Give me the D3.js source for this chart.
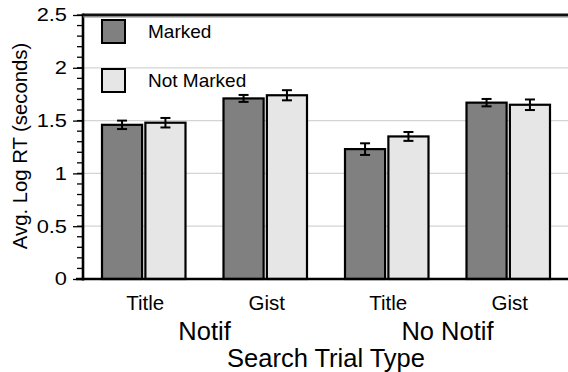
<!DOCTYPE html>
<html>
<head>
<meta charset="utf-8">
<script src="https://cdn.jsdelivr.net/npm/d3@7"></script>
<style>
  html, body { margin: 0; padding: 0; background: #fff; }
  svg { display: block; font-family: "Liberation Sans", Arial, sans-serif; }
</style>
</head>
<body>
<svg id="chart" width="568" height="372"></svg>
<script>
// Search trial conditions (x axis) and their grouping
const categories = ["Notif Title", "Notif Gist", "No Notif Title", "No Notif Gist"];
const tickLabels = ["Title", "Gist", "Title", "Gist"];
const groups = ["Notif", "No Notif"];
const series = ["Marked", "Not Marked"];

// Mean log response time (seconds) and error bar half-widths
const markedValues = [1.46, 1.71, 1.23, 1.67];
const notMarkedValues = [1.48, 1.74, 1.35, 1.65];
const markedErrors = [0.04, 0.033, 0.055, 0.035];
const notMarkedErrors = [0.045, 0.048, 0.042, 0.05];

const yTicks = [0, 0.5, 1, 1.5, 2, 2.5];

const fills = { "Marked": "#808080", "Not Marked": "#e6e6e6" };

const rows = categories.map((c, i) => ({
  category: c,
  bars: [
    { series: "Marked", value: markedValues[i], err: markedErrors[i] },
    { series: "Not Marked", value: notMarkedValues[i], err: notMarkedErrors[i] }
  ]
}));

const svg = d3.select("#chart");
const plotLeft = 83, plotRight = 569, plotTop = 15, plotBottom = 279;

const x0 = d3.scaleBand().domain(categories).range([plotLeft, plotRight]).padding(0);
const x1 = d3.scaleBand().domain(series).range([19, 102.5]).paddingInner(0.075);
const y = d3.scaleLinear().domain([0, 2.5]).range([plotBottom, plotTop]);
const xMid = c => x0(c) + x0.bandwidth() / 2;

// Horizontal grid lines
svg.append("g")
  .selectAll("line")
  .data(yTicks.filter(t => t > 0 && t < 2.5))
  .join("line")
  .attr("x1", plotLeft).attr("x2", 568)
  .attr("y1", d => y(d)).attr("y2", d => y(d))
  .attr("stroke", "#d4d4d4").attr("stroke-width", 1.2);

// Y axis with minor ticks every 0.1
const minor = d3.range(0, 2.5001, 0.1).map(v => +v.toFixed(1));
svg.append("g")
  .selectAll("line")
  .data(minor)
  .join("line")
  .attr("x1", plotLeft - 6).attr("x2", plotLeft)
  .attr("y1", d => y(d)).attr("y2", d => y(d))
  .attr("stroke", "#000").attr("stroke-width", 1.3);

const labelStretch = 1.18;
const yAxis = svg.append("g")
  .attr("transform", `translate(${plotLeft},0)`)
  .call(d3.axisLeft(y).tickValues(yTicks).tickFormat(d3.format("")).tickSize(10).tickPadding(6));
yAxis.select(".domain").remove();
yAxis.selectAll(".tick line").attr("stroke", "#000").attr("stroke-width", 1.3);
yAxis.selectAll(".tick text")
  .attr("font-size", 18.5)
  .attr("font-family", "Liberation Sans, Arial, sans-serif")
  .attr("fill", "#000")
  .attr("x", -16 / labelStretch)
  .attr("transform", `scale(${labelStretch},1)`);

// Bars
const barG = svg.append("g")
  .selectAll("g")
  .data(rows)
  .join("g")
  .attr("transform", d => `translate(${x0(d.category)},0)`);

barG.selectAll("rect")
  .data(d => d.bars)
  .join("rect")
  .attr("x", d => x1(d.series))
  .attr("width", x1.bandwidth())
  .attr("y", d => y(d.value))
  .attr("height", d => y(0) - y(d.value))
  .attr("fill", d => fills[d.series])
  .attr("stroke", "#000")
  .attr("stroke-width", 2.2);

// Error bars
const errG = barG.selectAll("g.err")
  .data(d => d.bars)
  .join("g")
  .attr("class", "err")
  .attr("transform", d => `translate(${x1(d.series) + x1.bandwidth() / 2},0)`);
errG.append("line")
  .attr("x1", 0).attr("x2", 0)
  .attr("y1", d => y(d.value + d.err)).attr("y2", d => y(d.value - d.err))
  .attr("stroke", "#000").attr("stroke-width", 2);
errG.selectAll("line.cap")
  .data(d => [d.value + d.err, d.value - d.err])
  .join("line")
  .attr("class", "cap")
  .attr("x1", -5).attr("x2", 5)
  .attr("y1", v => y(v)).attr("y2", v => y(v))
  .attr("stroke", "#000").attr("stroke-width", 2);

// Frame: left, top and bottom lines
svg.append("line")
  .attr("x1", plotLeft).attr("x2", plotLeft)
  .attr("y1", y(2.5) - 1.5).attr("y2", y(0) + 1.5)
  .attr("stroke", "#000").attr("stroke-width", 2.6);
svg.append("line")
  .attr("x1", plotLeft).attr("x2", 568)
  .attr("y1", y(2.5)).attr("y2", y(2.5))
  .attr("stroke", "#111").attr("stroke-width", 3);
svg.append("line")
  .attr("x1", plotLeft).attr("x2", 568)
  .attr("y1", y(2.5) + 2).attr("y2", y(2.5) + 2)
  .attr("stroke", "#888").attr("stroke-width", 1);
svg.append("line")
  .attr("x1", plotLeft - 7).attr("x2", 568)
  .attr("y1", y(0)).attr("y2", y(0))
  .attr("stroke", "#000").attr("stroke-width", 2.6);

// Category labels
svg.append("g")
  .selectAll("text")
  .data(categories)
  .join("text")
  .attr("x", d => xMid(d) + 1.5)
  .attr("y", 310)
  .attr("text-anchor", "middle")
  .attr("font-size", 20.5)
  .text((d, i) => tickLabels[i]);

// Group labels centred under their pair of categories
svg.append("g")
  .selectAll("text")
  .data(groups)
  .join("text")
  .attr("x", (g, i) => (xMid(categories[i * 2]) + xMid(categories[i * 2 + 1])) / 2)
  .attr("y", 340)
  .attr("text-anchor", "middle")
  .attr("font-size", 25.5)
  .text(g => g);

// Axis titles
svg.append("text")
  .attr("x", (plotLeft + plotRight) / 2).attr("y", 367)
  .attr("text-anchor", "middle")
  .attr("font-size", 25.5)
  .text("Search Trial Type");
svg.append("text")
  .attr("transform", "translate(26.5,146) rotate(-90)")
  .attr("text-anchor", "middle")
  .attr("font-size", 20.3)
  .text("Avg. Log RT (seconds)");

// Legend
const legend = svg.append("g")
  .selectAll("g")
  .data(series)
  .join("g")
  .attr("transform", (d, i) => `translate(102,${20 + i * 49})`);
legend.append("rect")
  .attr("width", 23).attr("height", 23)
  .attr("fill", d => fills[d])
  .attr("stroke", "#000").attr("stroke-width", 2);
legend.append("text")
  .attr("x", 46).attr("y", 18)
  .attr("font-size", 19)
  .text(d => d);
</script>
</body>
</html>
